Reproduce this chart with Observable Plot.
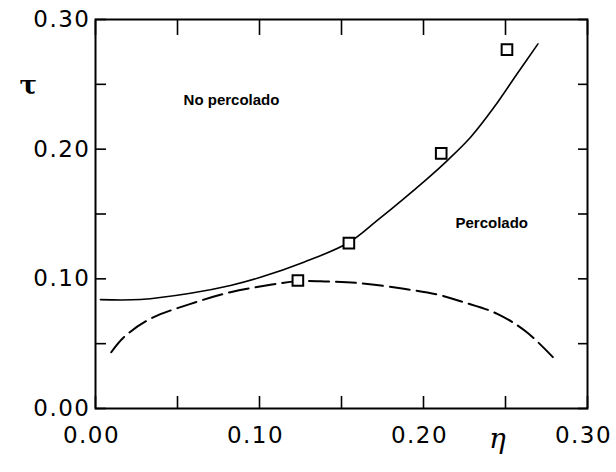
<!DOCTYPE html>
<html><head><meta charset="utf-8">
<script src="https://cdn.jsdelivr.net/npm/d3@7"></script>
<script src="https://cdn.jsdelivr.net/npm/@observablehq/plot@0.6"></script>
<style>
body{margin:0;background:#fff}
#chart svg{display:block;background:#fff;overflow:visible}
g[aria-label="x-axis tick label"] text, g[aria-label="y-axis tick label"] text{letter-spacing:1.5px}
</style></head><body><div id="chart"></div>
<script>
// minor/major tick positions and labelled ticks
const tickValues = [0, 0.05, 0.10, 0.15, 0.20, 0.25, 0.30];
const labelValues = [0, 0.10, 0.20, 0.30];

// solid curve (percolation threshold)
const solidEta = [0.003, 0.0274, 0.0579, 0.0823, 0.1006, 0.127, 0.1545, 0.1718, 0.2022, 0.2145, 0.2287, 0.243, 0.257, 0.2698];
const solidTau = [0.0840, 0.0841, 0.0889, 0.0949, 0.1012, 0.1128, 0.1280, 0.145, 0.1771, 0.1912, 0.2092, 0.2323, 0.258, 0.2812];

// dashed curve
const dashedEta = [0.0096, 0.0173, 0.0335, 0.058, 0.0823, 0.1067, 0.123, 0.1413, 0.1616, 0.188, 0.2084, 0.2245, 0.245, 0.263, 0.2805];
const dashedTau = [0.0434, 0.055, 0.0692, 0.0807, 0.0897, 0.0954, 0.0982, 0.0979, 0.0966, 0.0923, 0.0879, 0.082, 0.073, 0.0588, 0.0375];

// simulation points (squares)
const pointEta = [0.1234, 0.1545, 0.2108, 0.2509];
const pointTau = [0.0987, 0.1275, 0.1968, 0.2768];

// region annotations
const regionText = ["No percolado", "Percolado"];
const regionEta = [0.0537, 0.2195];
const regionTau = [0.2375, 0.1426];

// axis titles
const xTitle = "η", xTitleEta = 0.245;
const yTitle = "τ", yTitleTau = 0.2493;

const solid = solidEta.map((x, i) => ({x, y: solidTau[i]}));
const dashed = dashedEta.map((x, i) => ({x, y: dashedTau[i]}));
const points = pointEta.map((x, i) => ({x, y: pointTau[i]}));
const regions = regionText.map((t, i) => ({t, x: regionEta[i], y: regionTau[i]}));

const fmt = d3.format(".2f");
const font = "DejaVu Sans";

const chart = Plot.plot({
  width: 616,
  height: 472,
  marginLeft: 95,
  marginRight: 29,
  marginTop: 19,
  marginBottom: 64,
  style: {fontFamily: font, background: "#fff", color: "#000"},
  x: {domain: [0, 0.30], label: null},
  y: {domain: [0, 0.30], label: null},
  marks: [
    Plot.frame({stroke: "#000", strokeWidth: 2}),
    // inward ticks on all four sides
    Plot.axisX({anchor: "bottom", ticks: tickValues, tickSize: -12, tickFormat: () => "", label: null, strokeWidth: 1.6}),
    Plot.axisX({anchor: "top", ticks: tickValues, tickSize: -15, tickFormat: () => "", label: null, strokeWidth: 1.6}),
    Plot.axisY({anchor: "left", ticks: tickValues, tickSize: -11, tickFormat: () => "", label: null, strokeWidth: 1.6}),
    Plot.axisY({anchor: "right", ticks: tickValues, tickSize: -10, tickFormat: () => "", label: null, strokeWidth: 1.6}),
    // tick labels
    Plot.axisX({anchor: "bottom", ticks: labelValues, tickSize: 0, tickPadding: 18, dx: -4, tickFormat: fmt, fontSize: 23, label: null}),
    Plot.axisY({anchor: "left", ticks: labelValues, tickSize: 0, tickPadding: 5, tickFormat: fmt, fontSize: 23, label: null}),
    // axis titles
    Plot.text([{t: xTitle, x: xTitleEta}], {x: "x", text: "t", frameAnchor: "bottom", dy: 39, fontSize: 28, fontStyle: "italic", fontFamily: "DejaVu Serif"}),
    Plot.text([{t: yTitle, y: yTitleTau}], {y: "y", text: "t", frameAnchor: "left", dx: -76, fontSize: 26, fontWeight: "bold", fontFamily: "DejaVu Serif"}),
    // curves
    Plot.line(dashed, {x: "x", y: "y", curve: "catmull-rom", stroke: "#000", strokeWidth: 2, strokeDasharray: "20,7"}),
    Plot.line(solid, {x: "x", y: "y", curve: "catmull-rom", stroke: "#000", strokeWidth: 1.6}),
    Plot.dot(points, {x: "x", y: "y", symbol: "square", r: 6, stroke: "#000", strokeWidth: 2, fill: "#fff"}),
    // region labels
    Plot.text(regions, {x: "x", y: "y", text: "t", textAnchor: "start", fontSize: 15, fontWeight: "bold", fontFamily: "Liberation Sans", style: {letterSpacing: "0.5px"}})
  ]
});
document.getElementById("chart").append(chart);
</script></body></html>
